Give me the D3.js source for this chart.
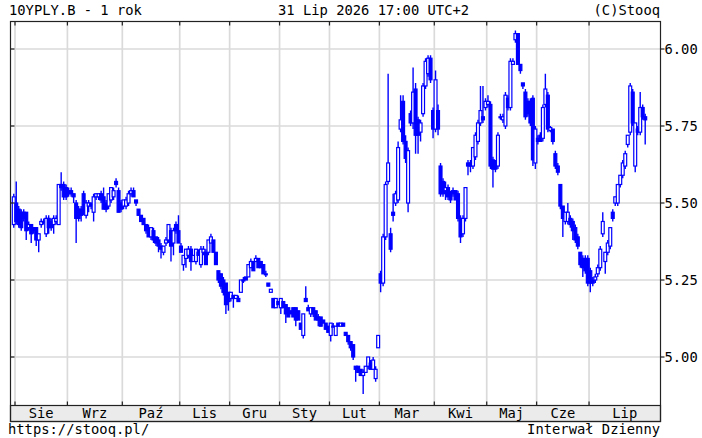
<!DOCTYPE html>
<html><head><meta charset="utf-8">
<script src="https://cdn.jsdelivr.net/npm/d3@7/dist/d3.min.js"></script>
<style>
body{margin:0;background:#fff;}
text{font-family:"DejaVu Sans Mono",monospace;font-size:13.8px;fill:#000;}
</style>
</head><body>
<svg id="c" width="702" height="438"></svg>
<script>
const opens=[
5.43,5.50,5.48,5.47,5.47,5.47,5.42,5.43,5.42,5.42,
5.38,5.43,5.44,5.40,5.45,5.44,5.43,5.44,5.43,5.56,
5.56,5.55,5.54,5.54,5.53,5.50,5.48,5.48,5.53,5.46,
5.49,5.50,5.47,5.52,5.52,5.53,5.52,5.50,5.49,5.51,
5.52,5.57,5.54,5.50,5.49,5.49,5.50,5.53,5.54,5.51,
5.48,5.46,5.45,5.43,5.42,5.39,5.41,5.39,5.38,5.36,
5.34,5.37,5.38,5.41,5.37,5.43,5.41,5.36,5.30,5.32,
5.33,5.35,5.31,5.31,5.34,5.30,5.34,5.34,5.34,5.37,
5.38,5.34,5.28,5.27,5.25,5.24,5.21,5.19,5.20,5.19,
5.19,5.21,5.25,5.26,5.26,5.29,5.31,5.31,5.32,5.31,
5.30,5.27,5.24,5.21,5.19,5.16,5.18,5.16,5.18,5.17,
5.16,5.15,5.16,5.16,5.15,5.11,5.07,5.19,5.16,5.14,
5.16,5.15,5.13,5.13,5.12,5.11,5.10,5.07,5.10,5.07,
5.11,5.10,5.11,5.08,5.07,5.05,5.04,4.97,4.97,4.96,
4.94,4.95,4.97,4.98,4.96,4.93,5.03,5.27,5.24,5.39,
5.57,5.40,5.47,5.50,5.51,5.74,5.83,5.70,5.50,5.79,
5.76,5.87,5.77,5.73,5.79,5.88,5.92,5.97,5.80,5.74,
5.80,5.62,5.57,5.54,5.55,5.53,5.54,5.54,5.53,5.45,
5.40,5.45,5.63,5.63,5.62,5.65,5.70,5.76,5.78,5.81,
5.82,5.82,5.64,5.63,5.62,5.78,5.77,5.75,5.84,5.81,
5.95,6.03,6.05,5.95,5.89,5.86,5.83,5.83,5.84,5.63,
5.71,5.72,5.71,5.82,5.85,5.735,5.74,5.66,5.62,5.56,
5.49,5.44,5.44,5.45,5.44,5.42,5.39,5.34,5.32,5.32,
5.32,5.28,5.25,5.25,5.27,5.29,5.40,5.31,5.34,5.36,
5.47,5.50,5.50,5.56,5.59,5.62,5.69,5.73,5.86,5.62,
5.74,5.73,5.81,5.78];
const highs=[
5.53,5.57,5.49,5.48,5.48,5.47,5.44,5.43,5.42,5.42,
5.40,5.45,5.45,5.46,5.46,5.45,5.46,5.46,5.56,5.60,
5.57,5.56,5.55,5.55,5.53,5.51,5.49,5.49,5.54,5.51,
5.51,5.50,5.53,5.53,5.53,5.54,5.55,5.51,5.53,5.55,
5.55,5.58,5.55,5.51,5.51,5.52,5.54,5.55,5.55,5.51,
5.48,5.46,5.45,5.43,5.43,5.42,5.42,5.39,5.39,5.37,
5.36,5.39,5.43,5.42,5.42,5.44,5.46,5.37,5.33,5.35,
5.36,5.36,5.33,5.35,5.35,5.36,5.36,5.35,5.38,5.40,
5.38,5.34,5.28,5.27,5.26,5.24,5.21,5.21,5.20,5.20,
5.20,5.25,5.26,5.26,5.30,5.32,5.31,5.33,5.32,5.31,
5.30,5.28,5.24,5.22,5.19,5.19,5.18,5.19,5.18,5.17,
5.16,5.15,5.16,5.16,5.15,5.11,5.14,5.23,5.17,5.16,
5.16,5.15,5.14,5.13,5.12,5.11,5.10,5.11,5.11,5.10,
5.11,5.11,5.11,5.08,5.07,5.05,5.04,4.97,4.97,4.96,
4.96,4.97,5.00,4.99,5.00,4.97,5.07,5.28,5.40,5.57,
5.92,5.42,5.53,5.54,5.70,5.85,5.85,5.72,5.68,5.80,
5.94,5.89,5.78,5.77,5.89,5.97,5.98,5.98,5.81,5.93,
5.82,5.63,5.58,5.57,5.56,5.54,5.55,5.54,5.54,5.46,
5.46,5.55,5.64,5.64,5.68,5.73,5.77,5.88,5.88,5.84,
5.85,5.83,5.65,5.64,5.73,5.79,5.79,5.86,5.85,5.97,
5.97,6.06,6.05,5.95,5.89,5.87,5.84,5.84,5.85,5.75,
5.72,5.73,5.82,5.92,5.86,5.75,5.74,5.67,5.63,5.56,
5.49,5.47,5.50,5.46,5.45,5.43,5.40,5.34,5.33,5.33,
5.33,5.29,5.26,5.27,5.30,5.36,5.47,5.34,5.38,5.42,
5.48,5.52,5.56,5.59,5.64,5.67,5.72,5.89,5.87,5.76,
5.75,5.86,5.82,5.79];
const lows=[
5.42,5.43,5.42,5.41,5.44,5.38,5.41,5.37,5.40,5.36,
5.34,5.42,5.43,5.39,5.40,5.41,5.40,5.43,5.43,5.54,
5.51,5.51,5.52,5.52,5.50,5.37,5.44,5.44,5.46,5.45,
5.47,5.48,5.44,5.51,5.51,5.50,5.48,5.47,5.48,5.50,
5.51,5.55,5.47,5.47,5.48,5.48,5.49,5.52,5.52,5.49,
5.46,5.44,5.43,5.40,5.39,5.38,5.37,5.36,5.34,5.32,
5.33,5.36,5.37,5.31,5.33,5.40,5.37,5.34,5.28,5.29,
5.32,5.28,5.31,5.30,5.33,5.29,5.33,5.30,5.33,5.37,
5.34,5.30,5.24,5.22,5.20,5.14,5.15,5.18,5.16,5.19,
5.18,5.21,5.24,5.25,5.26,5.29,5.28,5.31,5.29,5.29,
5.27,5.26,5.23,5.21,5.16,5.16,5.17,5.14,5.16,5.11,
5.13,5.14,5.13,5.10,5.12,5.09,5.06,5.18,5.15,5.13,
5.13,5.12,5.10,5.10,5.11,5.09,5.08,5.05,5.10,5.07,
5.10,5.10,5.10,5.07,5.04,5.02,4.99,4.92,4.95,4.94,
4.88,4.95,4.96,4.96,4.96,4.92,5.03,5.21,5.23,5.38,
5.56,5.34,5.44,5.49,5.50,5.73,5.69,5.63,5.47,5.75,
5.74,5.66,5.66,5.70,5.78,5.87,5.91,5.89,5.71,5.73,
5.72,5.52,5.52,5.51,5.51,5.50,5.52,5.51,5.44,5.37,
5.39,5.44,5.59,5.60,5.61,5.64,5.69,5.75,5.76,5.80,
5.81,5.61,5.55,5.60,5.61,5.77,5.76,5.74,5.80,5.80,
5.95,6.02,5.95,5.92,5.87,5.77,5.78,5.75,5.62,5.61,
5.69,5.70,5.70,5.81,5.73,5.73,5.69,5.61,5.59,5.48,
5.39,5.43,5.43,5.42,5.38,5.37,5.35,5.29,5.26,5.27,
5.23,5.21,5.23,5.24,5.26,5.28,5.39,5.27,5.33,5.35,
5.44,5.49,5.49,5.55,5.58,5.61,5.68,5.72,5.75,5.60,
5.72,5.72,5.77,5.69];
const closes=[
5.52,5.44,5.43,5.42,5.45,5.41,5.43,5.40,5.41,5.38,
5.40,5.44,5.44,5.45,5.42,5.42,5.45,5.45,5.56,5.55,
5.52,5.52,5.53,5.53,5.52,5.45,5.45,5.46,5.47,5.50,
5.50,5.49,5.52,5.53,5.53,5.51,5.48,5.48,5.53,5.55,
5.54,5.56,5.47,5.48,5.51,5.51,5.53,5.54,5.52,5.50,
5.46,5.44,5.43,5.41,5.39,5.42,5.38,5.37,5.36,5.35,
5.36,5.38,5.43,5.36,5.41,5.41,5.37,5.34,5.33,5.35,
5.35,5.31,5.33,5.35,5.33,5.35,5.35,5.30,5.38,5.39,
5.34,5.30,5.25,5.23,5.21,5.17,5.18,5.21,5.19,5.20,
5.18,5.25,5.25,5.25,5.30,5.31,5.28,5.32,5.29,5.29,
5.27,5.27,5.23,5.22,5.16,5.19,5.17,5.19,5.16,5.14,
5.13,5.14,5.13,5.12,5.12,5.09,5.14,5.18,5.15,5.16,
5.14,5.12,5.12,5.10,5.11,5.09,5.08,5.11,5.10,5.10,
5.10,5.11,5.10,5.07,5.05,5.03,5.00,4.96,4.95,4.94,
4.95,4.97,5.00,4.96,4.99,4.96,5.07,5.24,5.39,5.56,
5.63,5.35,5.46,5.53,5.68,5.77,5.70,5.645,5.67,5.76,
5.86,5.72,5.72,5.76,5.88,5.96,5.97,5.90,5.74,5.90,
5.74,5.53,5.53,5.55,5.52,5.51,5.53,5.51,5.45,5.39,
5.45,5.55,5.62,5.62,5.68,5.72,5.76,5.80,5.77,5.83,
5.83,5.62,5.61,5.61,5.72,5.78,5.78,5.85,5.81,5.96,
5.96,6.05,5.95,5.93,5.88,5.78,5.79,5.76,5.64,5.74,
5.70,5.70,5.81,5.87,5.74,5.745,5.70,5.62,5.60,5.49,
5.45,5.47,5.47,5.43,5.41,5.38,5.36,5.30,5.29,5.28,
5.24,5.24,5.24,5.26,5.29,5.35,5.44,5.34,5.37,5.42,
5.45,5.52,5.56,5.59,5.63,5.66,5.72,5.88,5.76,5.76,
5.73,5.81,5.78,5.77];

const monthLabels=["Sie","Wrz","Paź","Lis","Gru","Sty","Lut","Mar","Kwi","Maj","Cze","Lip"];
const monthStarts=[1,22,44,67,87,107,127,147,169,190,210,231];
const yTicks=[5.00,5.25,5.50,5.75,6.00];
const titleText="10YPLY.B - 1 rok";
const dateText="31 Lip 2026 17:00 UTC+2";
const copyText="(C)Stooq";
const urlText="https://stooq.pl/";
const intervalText="Interwał Dzienny";

const L=10.5, R=660.5, T=21.5, B=405.5, BAND=421.5;
const svg=d3.select("#c");
const n=closes.length;
const data=d3.range(n).map(i=>({i,o:opens[i],h:highs[i],l:lows[i],c:closes[i]}));

const x=d3.scaleLinear().domain([0,n-1]).range([13.75,645.2]);
const y=d3.scaleLinear().domain([5,6]).range([357,49]);

svg.append("rect").attr("x",0).attr("y",0).attr("width",702).attr("height",438).attr("fill","#fff");

// gridlines
const gx=monthStarts.map(s=>x(s-0.5));
svg.append("g").selectAll("line").data(gx).join("line")
  .attr("x1",d=>d).attr("x2",d=>d).attr("y1",T).attr("y2",B)
  .attr("stroke","#dadada").attr("stroke-width",1.7);
svg.append("g").selectAll("line").data(yTicks).join("line")
  .attr("x1",L).attr("x2",R).attr("y1",d=>y(d)).attr("y2",d=>y(d))
  .attr("stroke","#dadada").attr("stroke-width",1.7);

// candles
svg.append("defs").append("clipPath").attr("id","clip")
  .append("rect").attr("x",L).attr("y",T).attr("width",R-L).attr("height",B-T);
const cg=svg.append("g").attr("clip-path","url(#clip)");
const bw=2.9;
const cs=cg.selectAll("g").data(data).join("g");
cs.append("line")
  .attr("x1",d=>x(d.i)).attr("x2",d=>x(d.i))
  .attr("y1",d=>y(d.h)).attr("y2",d=>y(d.l))
  .attr("stroke","#0000ff").attr("stroke-width",1.4);
cs.append("rect")
  .attr("x",d=>x(d.i)-bw/2).attr("width",bw)
  .attr("y",d=>y(Math.max(d.o,d.c)))
  .attr("height",d=>Math.max(1,Math.abs(y(d.o)-y(d.c))))
  .attr("fill",d=>d.c>=d.o?"#ffffff":"#0000ff")
  .attr("stroke","#0000ff").attr("stroke-width",1.2);

// axis band
svg.append("rect").attr("x",L).attr("y",B).attr("width",R-L).attr("height",BAND-B)
  .attr("fill","#ebebeb").attr("stroke","#222").attr("stroke-width",1.2);
// frame
svg.append("rect").attr("x",L).attr("y",T).attr("width",R-L).attr("height",BAND-T)
  .attr("fill","none").attr("stroke","#222").attr("stroke-width",1.2);

// ticks
const tk=svg.append("g").attr("stroke","#222").attr("stroke-width",1.2);
gx.forEach(v=>{
  tk.append("line").attr("x1",v).attr("x2",v).attr("y1",T).attr("y2",T+4);
  tk.append("line").attr("x1",v).attr("x2",v).attr("y1",B-4).attr("y2",B);
});
yTicks.forEach(v=>{
  tk.append("line").attr("x1",L).attr("x2",L+4).attr("y1",y(v)).attr("y2",y(v));
  tk.append("line").attr("x1",R).attr("x2",R+4).attr("y1",y(v)).attr("y2",y(v));
});

// y labels
svg.append("g").selectAll("text").data(yTicks).join("text")
  .attr("x",R+4).attr("y",d=>y(d)+5).text(d=>d.toFixed(2));

// month labels
const edges=gx.concat([R]);
svg.append("g").selectAll("text").data(monthLabels).join("text")
  .attr("x",(d,k)=>(edges[k]+edges[k+1])/2).attr("y",418)
  .attr("text-anchor","middle").text(d=>d);

// header/footer
svg.append("text").attr("x",9).attr("y",15).text(titleText);
svg.append("text").attr("x",278).attr("y",15).text(dateText);
svg.append("text").attr("x",660).attr("y",15).attr("text-anchor","end").text(copyText);
svg.append("text").attr("x",8).attr("y",434).text(urlText);
svg.append("text").attr("x",660).attr("y",434).attr("text-anchor","end").text(intervalText);
</script>
</body></html>
